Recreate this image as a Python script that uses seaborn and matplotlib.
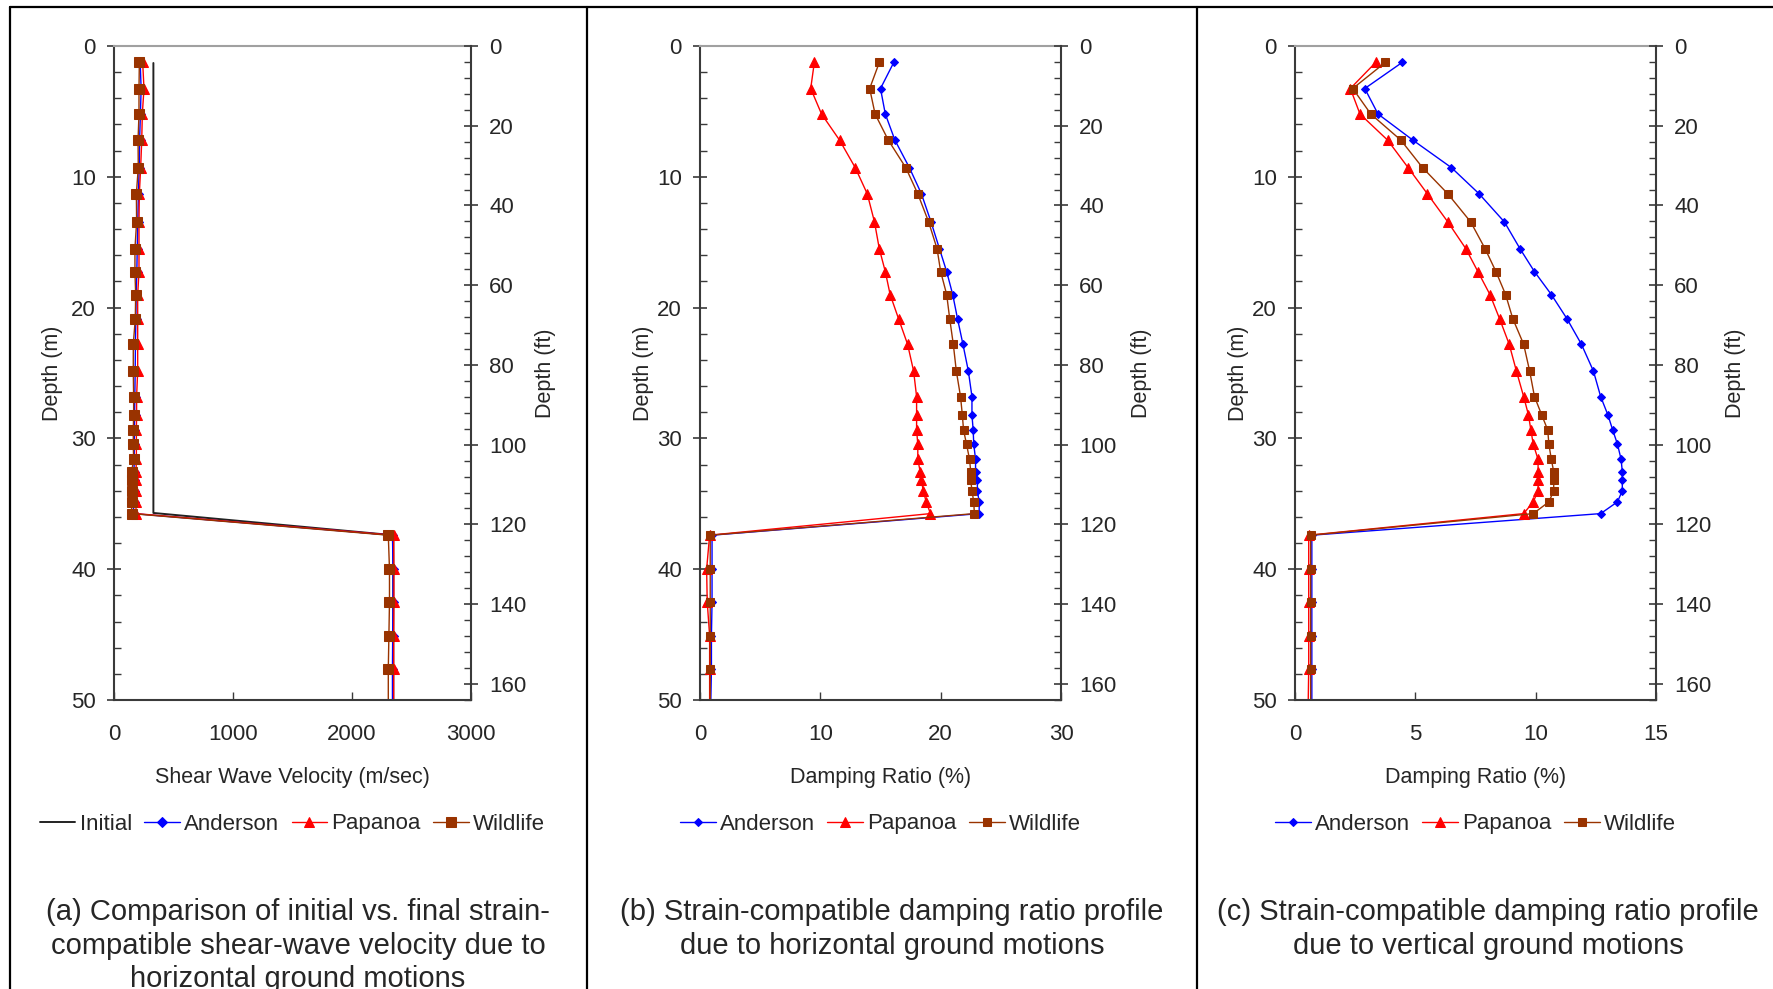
import matplotlib
matplotlib.use('Agg')
import matplotlib.pyplot as plt
from matplotlib.lines import Line2D
from matplotlib.ticker import MultipleLocator
import seaborn as sns

sns.set_style('white')
plt.rcParams['font.family'] = ['Liberation Sans', 'DejaVu Sans']

# layer depths (m), last point = bottom of profile
depth = [1.26, 3.25, 5.2, 7.2, 9.3, 11.3, 13.45, 15.5, 17.25, 19.0, 20.85, 22.8,
         24.85, 26.8, 28.2, 29.35, 30.45, 31.6, 32.55, 33.2, 34.0, 34.85, 35.75,
         37.4, 40.0, 42.5, 45.1, 47.6, 50.0]

# (a) shear wave velocity (m/sec)
init_depth = [1.3, 35.7, 37.4, 50.0]
init_vs = [331, 331, 2347, 2347]
vs_anderson = [220, 228, 222, 215, 212, 205, 200, 195, 192, 186, 184, 180, 178, 175,
               173, 172, 170, 170, 168, 166, 165, 165, 164, 2340, 2345, 2345, 2342, 2340, 2340]
vs_papanoa = [241, 252, 238, 233, 224, 213, 210, 210, 210, 199, 199, 199, 199, 190,
              190, 188, 188, 188, 185, 185, 185, 185, 185, 2350, 2352, 2352, 2350, 2350, 2350]
vs_wildlife = [213, 210, 210, 202, 204, 188, 190, 176, 176, 182, 179, 162, 162, 165,
               165, 162, 162, 165, 148, 148, 148, 148, 148, 2305, 2315, 2315, 2310, 2305, 2305]

# (b) damping ratio, horizontal motions (%)
dh_anderson = [16.1, 15.0, 15.4, 16.2, 17.4, 18.4, 19.2, 19.9, 20.5, 21.0, 21.4, 21.85, 22.3,
               22.6, 22.6, 22.7, 22.75, 22.9, 22.9, 23.05, 23.05, 23.2, 23.2, 1.0, 1.0, 1.0, 0.95, 0.95, 0.9]
dh_papanoa = [9.5, 9.2, 10.1, 11.6, 12.9, 13.9, 14.5, 14.9, 15.4, 15.8, 16.5, 17.25, 17.75,
              18.0, 18.0, 18.0, 18.1, 18.1, 18.3, 18.4, 18.55, 18.8, 19.15, 0.8, 0.55, 0.6, 0.8, 0.8, 0.8]
dh_wildlife = [14.9, 14.1, 14.55, 15.65, 17.1, 18.1, 19.0, 19.7, 20.0, 20.5, 20.75, 21.05, 21.3,
               21.65, 21.8, 21.9, 22.15, 22.4, 22.5, 22.5, 22.6, 22.75, 22.8, 0.85, 0.85, 0.85, 0.85, 0.85, 0.85]

# (c) damping ratio, vertical motions (%)
dv_anderson = [4.45, 2.9, 3.45, 4.9, 6.5, 7.65, 8.7, 9.35, 9.95, 10.65, 11.3, 11.9, 12.4,
               12.7, 13.0, 13.2, 13.4, 13.55, 13.6, 13.6, 13.6, 13.4, 12.7, 0.7, 0.7, 0.7, 0.7, 0.7, 0.7]
dv_papanoa = [3.35, 2.3, 2.7, 3.85, 4.7, 5.5, 6.35, 7.1, 7.6, 8.1, 8.5, 8.9, 9.2,
              9.5, 9.7, 9.8, 9.9, 10.1, 10.1, 10.1, 10.1, 9.9, 9.5, 0.57, 0.57, 0.57, 0.57, 0.57, 0.55]
dv_wildlife = [3.75, 2.4, 3.15, 4.4, 5.3, 6.35, 7.3, 7.9, 8.35, 8.75, 9.05, 9.5, 9.75,
               9.95, 10.25, 10.5, 10.55, 10.65, 10.75, 10.75, 10.75, 10.55, 9.9, 0.65, 0.65, 0.65, 0.65, 0.65, 0.65]

captions = [['(a) Comparison of initial vs. final strain-',
             'compatible shear-wave velocity due to',
             'horizontal ground motions'],
            ['(b) Strain-compatible damping ratio profile',
             'due to horizontal ground motions'],
            ['(c) Strain-compatible damping ratio profile',
             'due to vertical ground motions']]

W, H = 1774, 989
fig = plt.figure(figsize=(W / 100, H / 100), dpi=100)

# panel boxes (pixels): left, right of plot area
boxes = [(114, 471), (700, 1061), (1295, 1656)]
top_px, bot_px = 46, 700
cap_x = [298, 892, 1488]
cap_base = [920, 954, 987]
xlims = [(0, 3000, 1000), (0, 30, 10), (0, 15, 5)]
xlabels = ['Shear Wave Velocity (m/sec)', 'Damping Ratio (%)', 'Damping Ratio (%)']
ylab_l = [-0.144, -0.128, -0.128]
ylab_r = [1.18, 1.194, 1.192]

series = [
    (vs_anderson, vs_papanoa, vs_wildlife),
    (dh_anderson, dh_papanoa, dh_wildlife),
    (dv_anderson, dv_papanoa, dv_wildlife),
]

axis_col = '#3a3a3a'

for i, (l, r) in enumerate(boxes):
    ax = fig.add_axes([l / W, 1 - bot_px / H, (r - l) / W, (bot_px - top_px) / H])
    big = (i == 0)
    ms = 1.2 if big else 1.0
    if big:
        sns.lineplot(x=init_vs, y=init_depth, sort=False, estimator=None, orient='y',
                     color='#222222', linewidth=1.4, label='Initial', ax=ax)
    a, p, w = series[i]
    sns.lineplot(x=a, y=depth, sort=False, estimator=None, orient='y', color='#0000ff',
                 linewidth=1.0, marker='D', markersize=4 * ms, markeredgecolor='#0000ff',
                 markevery=slice(0, 28), label='Anderson', ax=ax)
    sns.lineplot(x=p, y=depth, sort=False, estimator=None, orient='y', color='#ff0000',
                 linewidth=1.0, marker='^', markersize=6.5 * ms, markeredgecolor='#ff0000',
                 markevery=slice(0, 28), label='Papanoa', ax=ax)
    sns.lineplot(x=w, y=depth, sort=False, estimator=None, orient='y', color='#993300',
                 linewidth=1.0, marker='s', markersize=5.6 * ms, markeredgecolor='#993300',
                 markevery=slice(0, 28), label='Wildlife', ax=ax)

    x0, x1, step = xlims[i]
    ax.set_xlim(x0, x1)
    ax.set_ylim(50, 0)
    ax.xaxis.set_major_locator(MultipleLocator(step))
    ax.yaxis.set_major_locator(MultipleLocator(10))
    ax.yaxis.set_minor_locator(MultipleLocator(2))
    ax.tick_params(axis='y', which='major', direction='inout', length=10, width=1.2,
                   color=axis_col, labelsize=16, pad=8, left=True)
    ax.tick_params(axis='y', which='minor', direction='in', length=5, width=1.0,
                   color=axis_col, left=True)
    ax.tick_params(axis='x', which='major', direction='in', length=6, width=1.0,
                   color=axis_col, labelsize=16, pad=17, bottom=True)
    for s in ['left', 'bottom']:
        ax.spines[s].set_color(axis_col)
        ax.spines[s].set_linewidth(1.5)
    ax.spines['top'].set_color('#a0a0a0')
    ax.spines['top'].set_linewidth(1.5)
    ax.spines['right'].set_visible(False)

    ax.set_xlabel(xlabels[i], fontsize=15.5)
    ax.xaxis.set_label_coords(0.5, -0.103)
    ax.set_ylabel('Depth (m)', fontsize=15.5)
    ax.yaxis.set_label_coords(ylab_l[i], 0.5)

    handles, labels = ax.get_legend_handles_labels()
    ax.legend(handles, labels, loc='center', ncol=len(labels), frameon=False,
              fontsize=16, handlelength=1.6, handletextpad=0.2, columnspacing=0.55,
              borderpad=0, bbox_to_anchor=((l + r) / 2 / W, 1 - 824 / H),
              bbox_transform=fig.transFigure)

    ax2 = ax.twinx()
    ax2.set_ylim(50 / 0.3048, 0)
    ax2.yaxis.set_major_locator(MultipleLocator(20))
    ax2.yaxis.set_minor_locator(MultipleLocator(4))
    ax2.tick_params(axis='y', which='major', direction='inout', length=10, width=1.2,
                    color=axis_col, labelsize=16, pad=8, right=True)
    ax2.tick_params(axis='y', which='minor', direction='in', length=5, width=1.0,
                    color=axis_col, right=True)
    for s in ['left', 'top', 'bottom']:
        ax2.spines[s].set_visible(False)
    ax2.spines['right'].set_color(axis_col)
    ax2.spines['right'].set_linewidth(1.5)
    ax2.set_ylabel('Depth (ft)', fontsize=15.5)
    ax2.yaxis.set_label_coords(ylab_r[i], 0.5)

    # caption under each panel, one text per line
    for k, line in enumerate(captions[i]):
        fig.text(cap_x[i] / W, 1 - cap_base[k] / H, line, ha='center', va='baseline',
                 fontsize=21)

# frame lines around the panels
fy = 1 - 7 / H
fig.add_artist(Line2D([10 / W, 1], [fy, fy], transform=fig.transFigure, color='black', lw=1.6))
for px in [10, 587, 1197]:
    fig.add_artist(Line2D([px / W, px / W], [0, fy], transform=fig.transFigure,
                          color='black', lw=1.6))

fig.savefig('out.png', dpi=100)
